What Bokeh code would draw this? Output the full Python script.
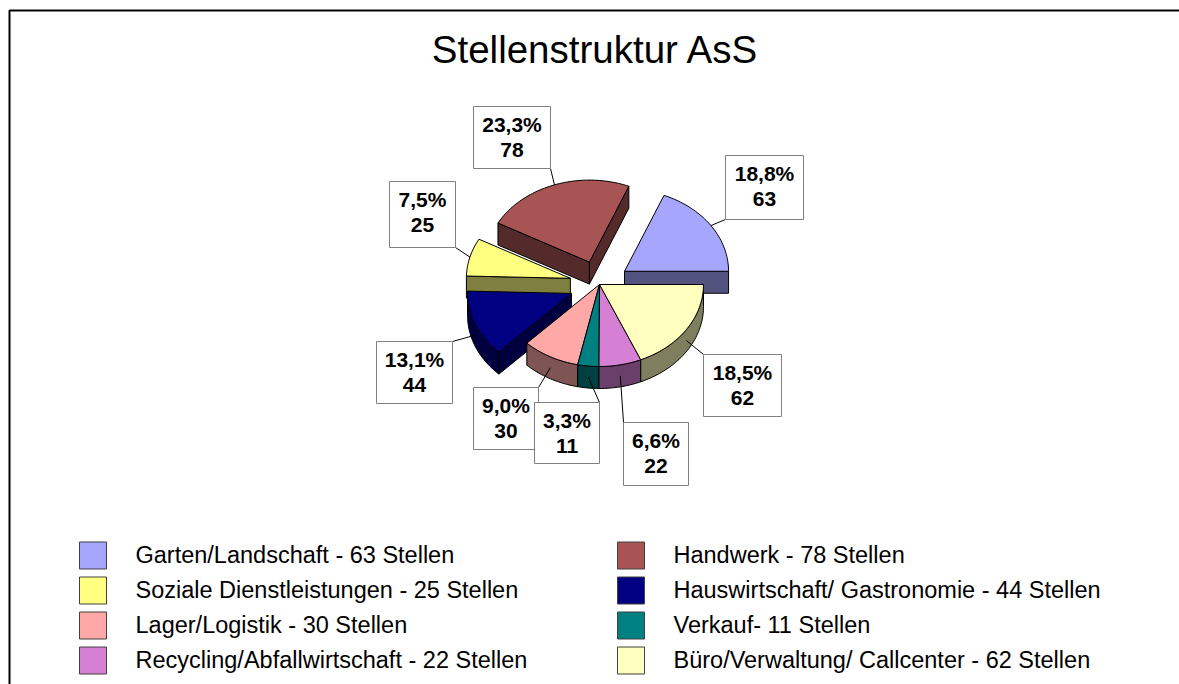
import math
import numpy as np
from bokeh.plotting import figure
from bokeh.models import Range1d, ColumnDataSource
from bokeh.embed import file_html
from bokeh.resources import INLINE
from bokeh.core.properties import value

# ---------------- data ----------------
title_text = "Stellenstruktur AsS"
categories = ["Garten/Landschaft", "Handwerk", "Soziale Dienstleistungen",
              "Hauswirtschaft/ Gastronomie", "Lager/Logistik", "Verkauf",
              "Recycling/Abfallwirtschaft", "Büro/Verwaltung/ Callcenter"]
values = [63, 78, 25, 44, 30, 11, 22, 62]
legend_labels = ["Garten/Landschaft - 63 Stellen", "Handwerk - 78 Stellen",
                 "Soziale Dienstleistungen - 25 Stellen",
                 "Hauswirtschaft/ Gastronomie - 44 Stellen",
                 "Lager/Logistik - 30 Stellen", "Verkauf- 11 Stellen",
                 "Recycling/Abfallwirtschaft - 22 Stellen",
                 "Büro/Verwaltung/ Callcenter - 62 Stellen"]
exploded = [True, True, True, True, False, False, False, False]

# ---------------- styles ----------------
top_colors = ["#A6A6FF", "#A85454", "#FFFF80", "#000080",
              "#FFA8A8", "#008080", "#D580D5", "#FFFFC0"]


def darken(hexc, f=0.5):
    r, g, b = int(hexc[1:3], 16), int(hexc[3:5], 16), int(hexc[5:7], 16)
    return "#%02X%02X%02X" % (int(r * f), int(g * f), int(b * f))


side_colors = [darken(c) for c in top_colors]

# label boxes (left, top, right, bottom) in page pixels
label_boxes = [(725, 155, 803, 219), (473, 106, 550, 168), (389, 181, 455, 247),
               (376, 341, 452, 403), (473, 387, 538, 449), (534, 402, 599, 463),
               (623, 422, 688, 485), (703, 354, 781, 416)]

# ---------------- geometry ----------------
W, H = 1179, 684
CX, CY = 599, 284
RX, RY = 104, 82
DEPTH = 22
EXPLODE = 0.29
START = 0.0

p = figure(width=W, height=H, x_range=Range1d(0, W), y_range=Range1d(H, 0),
           output_backend="svg", toolbar_location=None, min_border=0,
           x_axis_location=None, y_axis_location=None)
p.grid.visible = False
p.outline_line_color = None
p.background_fill_color = "white"
p.border_fill_color = "white"

total = float(sum(values))
angles = []
acc = START
for v in values:
    a1 = acc
    a2 = acc + v / total * 360.0
    angles.append((a1, a2))
    acc = a2


def arc(cx, cy, a1, a2, dz=0.0):
    n = max(2, int(abs(a2 - a1) / 1.5) + 2)
    t = np.radians(np.linspace(a1, a2, n))
    return list(cx + RX * np.cos(t)), list(cy - RY * np.sin(t) + dz)


def rim(cx, cy, a, dz=0.0):
    t = math.radians(a)
    return cx + RX * math.cos(t), cy - RY * math.sin(t) + dz


centers = []
for i, (a1, a2) in enumerate(angles):
    mid = math.radians((a1 + a2) / 2)
    if exploded[i]:
        centers.append((CX + EXPLODE * RX * math.cos(mid), CY - EXPLODE * RY * math.sin(mid)))
    else:
        centers.append((CX, CY))

faces_x, faces_y, faces_c = [], [], []


def add(xs, ys, c):
    faces_x.append(xs)
    faces_y.append(ys)
    faces_c.append(c)


def curved_side(i):
    cx, cy = centers[i]
    a1, a2 = angles[i]
    lo, hi = max(a1, 180.0), min(a2, 360.0)
    if hi > lo:
        tx, ty = arc(cx, cy, lo, hi)
        bx, by = arc(cx, cy, hi, lo, DEPTH)
        add(tx + bx, ty + by, side_colors[i])


def cut_face(i, a):
    cx, cy = centers[i]
    rx_, ry_ = rim(cx, cy, a)
    add([cx, rx_, rx_, cx], [cy, ry_, ry_ + DEPTH, cy + DEPTH], side_colors[i])


def top_face(i):
    cx, cy = centers[i]
    a1, a2 = angles[i]
    tx, ty = arc(cx, cy, a1, a2)
    add([cx] + tx, [cy] + ty, top_colors[i])


# exploded slices, back to front
ex_idx = [i for i in range(len(values)) if exploded[i]]
ex_idx.sort(key=lambda i: -math.sin(math.radians(sum(angles[i]) / 2)))
for i in ex_idx:
    a1, a2 = angles[i]
    curved_side(i)
    if math.cos(math.radians(a1)) > 1e-9:
        cut_face(i, a1)
    if math.cos(math.radians(a2)) < -1e-9:
        cut_face(i, a2)
    top_face(i)

# central (non-exploded) group
cen_idx = [i for i in range(len(values)) if not exploded[i]]
for i in cen_idx:
    curved_side(i)
for i in cen_idx:
    top_face(i)

p.patches(xs="xs", ys="ys", fill_color="c", line_color="black", line_width=1,
          source=ColumnDataSource(dict(xs=faces_x, ys=faces_y, c=faces_c)))

# ---------------- data labels ----------------
LBL_FS = 21
for i, v in enumerate(values):
    a1, a2 = angles[i]
    cx, cy = centers[i]
    mid = (a1 + a2) / 2
    dz = DEPTH / 2 if math.sin(math.radians(mid)) < 0 else 0.0
    ax, ay = rim(cx, cy, mid, dz)
    l, t, r, b = label_boxes[i]
    corners = [(l, t), (r, t), (l, b), (r, b)]
    ex_, ey_ = min(corners, key=lambda q: (q[0] - ax) ** 2 + (q[1] - ay) ** 2)
    p.line([ax, ex_], [ay, ey_], line_color="black", line_width=1)
    p.quad(left=l, right=r, top=t, bottom=b, fill_color="white",
           line_color="#808080", line_width=1)
    pct = ("%.1f" % (v / total * 100)).replace(".", ",") + "%"
    xc = (l + r) / 2
    p.text(x=[xc, xc], y=[t + 26 - 0.4 * LBL_FS, t + 52 - 0.4 * LBL_FS], text=[pct, str(v)],
           text_font=value("Liberation Sans"), text_font_style="bold",
           text_font_size="%dpx" % LBL_FS, text_align="center",
           text_baseline="alphabetic", text_color="black")

# ---------------- title ----------------
TFS = 38.5
p.text(x=[595], y=[64 - 0.4 * TFS], text=[title_text], text_font=value("Liberation Sans"),
       text_font_size="%spx" % TFS, text_align="center", text_baseline="alphabetic",
       text_color="black")

# ---------------- legend ----------------
col_sq_x = [79, 617]
col_tx_x = [135, 673]
row_y = [555, 590, 625, 660]
SQ = 27
LFS = 23.5
for i, lab in enumerate(legend_labels):
    col = i % 2
    row = i // 2
    x0 = col_sq_x[col]
    yc = row_y[row]
    p.quad(left=x0, right=x0 + SQ, top=yc - SQ / 2, bottom=yc + SQ / 2,
           fill_color=top_colors[i], line_color="#404040", line_width=1)
    p.text(x=[col_tx_x[col]], y=[yc + 8.5 - 0.4 * LFS], text=[lab],
           text_font=value("Liberation Sans"), text_font_size="%spx" % LFS,
           text_align="left", text_baseline="alphabetic", text_color="black")

# ---------------- frame ----------------
p.line([W + 5, 9, 9], [10, 10, H + 5], line_color="black", line_width=2)

open("out.html", "w").write(file_html(p, INLINE))
